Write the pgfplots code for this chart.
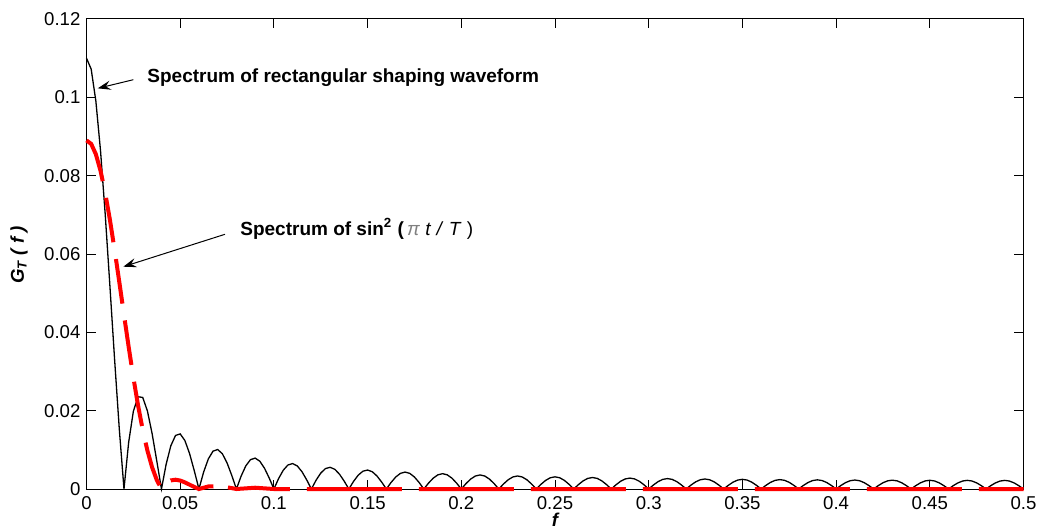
\documentclass[border=0pt]{standalone}
\usepackage{fontspec}
\setmainfont{Liberation Sans}
\usepackage{pgfplots}
\usepackage{pgfplotstable}
\pgfplotsset{compat=1.18}
\usetikzlibrary{arrows.meta}

\pgfplotstableread{
f y
0 0.11
0.0025 0.10719
0.005 0.09904
0.0075 0.08627
0.01 0.07004
0.0125 0.05177
0.015 0.03302
0.0175 0.01532
0.02 0
0.0225 0.011920
0.025 0.019827
0.0275 0.023555
0.03 0.023377
0.0325 0.019941
0.035 0.014176
0.0375 0.007163
0.04 0
0.0425 0.006324
0.045 0.011040
0.0475 0.013671
0.05 0.014063
0.0525 0.012379
0.055 0.009048
0.0575 0.004686
0.06 0
0.0625 0.004315
0.065 0.007671
0.0675 0.009657
0.07 0.010085
0.0725 0.009001
0.075 0.006664
0.0775 0.003492
0.08 0
0.0825 0.003285
0.085 0.005895
0.0875 0.007488
0.09 0.007886
0.0925 0.007094
0.095 0.005290
0.0975 0.002792
0.1 0
0.1025 0.002660
0.105 0.004802
0.1075 0.006134
0.11 0.006495
0.1125 0.005872
0.115 0.004401
0.1175 0.002333
0.12 0
0.1225 0.002243
0.125 0.004065
0.1275 0.005213
0.13 0.005540
0.1325 0.005027
0.135 0.003780
0.1375 0.002011
0.14 0
0.1425 0.001945
0.145 0.003536
0.1475 0.004547
0.15 0.004846
0.1525 0.004409
0.155 0.003324
0.1575 0.001773
0.16 0
0.1625 0.001654
0.165 0.003056
0.1675 0.003993
0.17 0.004322
0.1725 0.003993
0.175 0.003056
0.1775 0.001654
0.18 0
0.1825 0.001498
0.185 0.002768
0.1875 0.003616
0.19 0.003914
0.1925 0.003616
0.195 0.002768
0.1975 0.001498
0.2 0
0.2025 0.001374
0.205 0.002538
0.2075 0.003316
0.21 0.003589
0.2125 0.003316
0.215 0.002538
0.2175 0.001374
0.22 0
0.2225 0.001273
0.225 0.002352
0.2275 0.003073
0.23 0.003327
0.2325 0.003073
0.235 0.002352
0.2375 0.001273
0.24 0
0.2425 0.001191
0.245 0.002200
0.2475 0.002874
0.25 0.003111
0.2525 0.002874
0.255 0.002200
0.2575 0.001191
0.26 0
0.2625 0.001122
0.265 0.002074
0.2675 0.002710
0.27 0.002933
0.2725 0.002710
0.275 0.002074
0.2775 0.001122
0.28 0
0.2825 0.001065
0.285 0.001969
0.2875 0.002572
0.29 0.002784
0.2925 0.002572
0.295 0.001969
0.2975 0.001065
0.3 0
0.3025 0.001018
0.305 0.001881
0.3075 0.002457
0.31 0.002660
0.3125 0.002457
0.315 0.001881
0.3175 0.001018
0.32 0
0.3225 0.000978
0.325 0.001807
0.3275 0.002361
0.33 0.002556
0.3325 0.002361
0.335 0.001807
0.3375 0.000978
0.34 0
0.3425 0.000945
0.345 0.001746
0.3475 0.002281
0.35 0.002469
0.3525 0.002281
0.355 0.001746
0.3575 0.000945
0.36 0
0.3625 0.000917
0.365 0.001695
0.3675 0.002215
0.37 0.002397
0.3725 0.002215
0.375 0.001695
0.3775 0.000917
0.38 0
0.3825 0.000895
0.385 0.001653
0.3875 0.002160
0.39 0.002338
0.3925 0.002160
0.395 0.001653
0.3975 0.000895
0.4 0
0.4025 0.000877
0.405 0.001620
0.4075 0.002117
0.41 0.002291
0.4125 0.002117
0.415 0.001620
0.4175 0.000877
0.42 0
0.4225 0.000863
0.425 0.001594
0.4275 0.002083
0.43 0.002254
0.4325 0.002083
0.435 0.001594
0.4375 0.000863
0.44 0
0.4425 0.000852
0.445 0.001575
0.4475 0.002058
0.45 0.002227
0.4525 0.002058
0.455 0.001575
0.4575 0.000852
0.46 0
0.4625 0.000846
0.465 0.001563
0.4675 0.002042
0.47 0.002210
0.4725 0.002042
0.475 0.001563
0.4775 0.000846
0.48 0
0.4825 0.000842
0.485 0.001556
0.4875 0.002033
0.49 0.002201
0.4925 0.002033
0.495 0.001556
0.4975 0.000842
0.5 0
}\rectspec

\pgfplotstableread{
f y
0 0.089
0.0025 0.088107
0.005 0.085470
0.0075 0.081217
0.01 0.075546
0.0125 0.068721
0.015 0.061051
0.0175 0.052863
0.02 0.0445
0.0225 0.036280
0.025 0.028490
0.0275 0.021373
0.03 0.015109
0.0325 0.009817
0.035 0.005550
0.0375 0.002298
0.04 0
0.0425 0.001451
0.045 0.002192
0.0475 0.002375
0.05 0.002158
0.0525 0.001693
0.055 0.001110
0.0575 0.000519
0.06 0
0.065 0.000645
0.07 0.000719
0.0755 0.000400
}\sinsqA

\pgfplotstableread{
f y
0.0755 0.000400
0.08 0
0.09 0.000327
0.1 0
0.5 0
}\sinsqB

\begin{document}
\begin{tikzpicture}[font=\fontsize{9.3}{11}\selectfont]
\begin{axis}[
  scale only axis,
  width=468.5pt, height=235pt,
  xmin=0, xmax=0.5, ymin=0, ymax=0.12,
  clip=false,
  axis line style={black, line width=0.5pt},
  tick align=inside,
  major tick length=4.7pt,
  tick style={black, line width=0.5pt},
  xtick={0,0.05,0.1,0.15,0.2,0.25,0.3,0.35,0.4,0.45,0.5},
  xticklabels={0,0.05,0.1,0.15,0.2,0.25,0.3,0.35,0.4,0.45,0.5},
  ytick={0,0.02,0.04,0.06,0.08,0.1,0.12},
  yticklabels={0,0.02,0.04,0.06,0.08,0.1,0.12},
  /pgf/number format/assume math mode=true,
  tick label style={font=\fontsize{9.3}{11}\selectfont},
  yticklabel style={xshift=0.5pt},
  xlabel={\bfseries\itshape f},
  ylabel={\bfseries\itshape G\textsubscript{T} ( f )},
  xlabel style={at={(rel axis cs:0.5,-0.066)}, anchor=center, font=\fontsize{9.3}{11}\selectfont},
  ylabel style={at={(rel axis cs:-0.072,0.498)}, anchor=center, font=\fontsize{9.3}{11}\selectfont},
]
\addplot[black, line width=0.65pt] table[x=f, y=y] {\rectspec};
\addplot[red, line width=2pt, dash pattern=on 22.5pt off 8.5pt] table[x=f, y=y] {\sinsqA};
\addplot[red, line width=2pt, dash pattern=on 47.5pt off 8.5pt, dash phase=16.5pt] table[x=f, y=y] {\sinsqB};

\draw[black, line width=0.5pt, -{Stealth[length=6.5pt, width=4.6pt, inset=2.4pt]}]
  (axis cs:0.0250,0.1045) -- (axis cs:0.0060,0.1023);
\node[anchor=base west, inner sep=0pt, font=\fontsize{9.5}{11}\selectfont] at (axis cs:0.0323,0.1039)
  {\bfseries Spectrum of rectangular shaping waveform};

\draw[black, line width=0.5pt, -{Stealth[length=6.5pt, width=4.6pt, inset=2.4pt]}]
  (axis cs:0.0739,0.06503) -- (axis cs:0.01964,0.05676);
\node[anchor=base west, inner sep=0pt, font=\fontsize{9.5}{11}\selectfont] at (axis cs:0.0819,0.06485)
  {\textbf{Spectrum of sin\textsuperscript{2} (}\,\textcolor{gray}{\textit{π}} \textit{t} \textit{/} \textit{T} )};
\end{axis}
\pgfresetboundingbox
\path[use as bounding box] ([xshift=-43.25pt,yshift=-20.5pt]current axis.south west) rectangle ([xshift=8.75pt,yshift=9.5pt]current axis.north east);
\end{tikzpicture}
\end{document}
